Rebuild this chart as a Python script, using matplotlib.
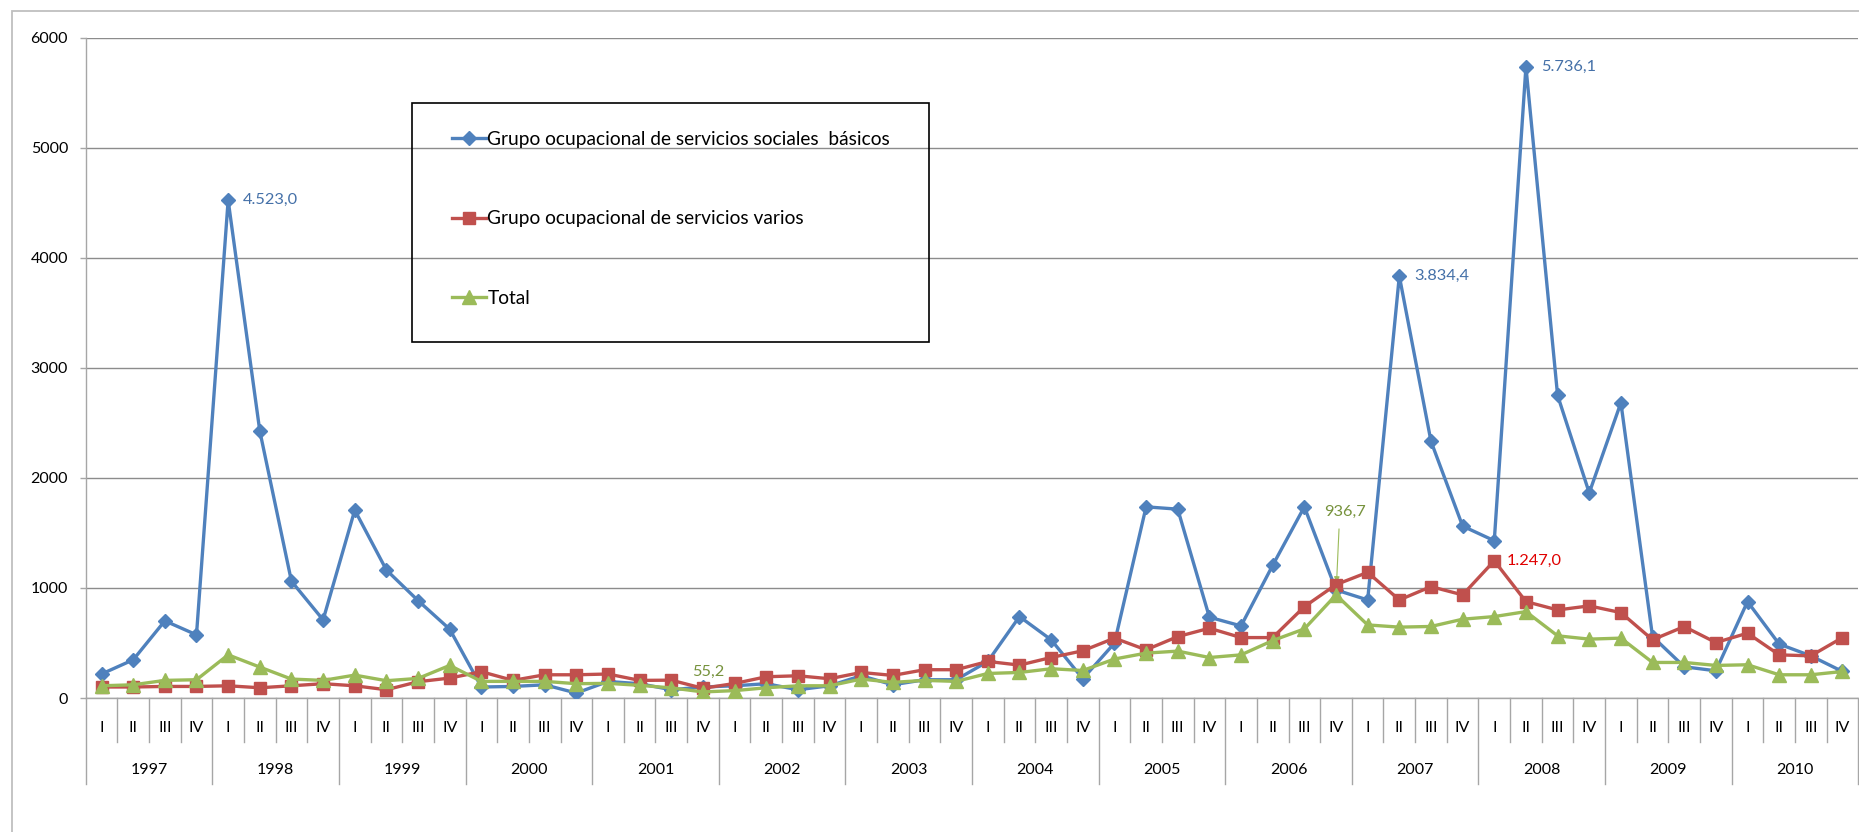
import matplotlib
matplotlib.use("Agg")
import matplotlib.pyplot as plt
import matplotlib.transforms as mtransforms
from matplotlib.patches import Rectangle

plt.rcParams['font.family'] = ['Lato', 'DejaVu Sans']

years = ['1997', '1998', '1999', '2000', '2001', '2002', '2003', '2004',
         '2005', '2006', '2007', '2008', '2009', '2010']
quarters = ['I', 'II', 'III', 'IV']

sociales_basicos = [
    218, 347, 701, 574,
    4523.0, 2426, 1061, 710,
    1707, 1163, 885, 625,
    100, 105, 120, 45,
    150, 130, 75, 100,
    111, 130, 75, 111,
    202, 120, 166, 166,
    332, 740, 529, 175,
    498, 1737, 1716, 734,
    655, 1206, 1737, 982,
    891, 3834.4, 2333, 1562,
    1429, 5736.1, 2750, 1864,
    2683, 558, 284, 247,
    876, 490, 383, 241,
]
servicios_varios = [
    100, 100, 105, 105,
    111, 93, 111, 130,
    111, 75, 148, 181,
    239, 160, 211, 211,
    218, 160, 162, 88,
    132, 193, 202, 175,
    232, 205, 257, 257,
    332, 299, 368, 429,
    544, 438, 558, 634,
    549, 549, 830, 1030,
    1142, 891, 1012, 937,
    1247.0, 876, 800, 837,
    776, 529, 649, 504,
    589, 392, 383, 549,
]
total = [
    111, 120, 160, 166,
    392, 281, 172, 160,
    208, 157, 178, 296,
    151, 151, 151, 130,
    133, 115, 92, 55.2,
    67, 93, 111, 111,
    172, 142, 160, 151,
    223, 232, 266, 250,
    354, 408, 426, 368,
    392, 522, 628, 936.7,
    664, 644, 650, 716,
    740, 785, 565, 535,
    544, 323, 323, 296,
    302, 211, 211, 241,
]

series_names = ['Grupo ocupacional de servicios sociales  básicos',
                'Grupo ocupacional de servicios varios',
                'Total']

BLUE = '#4F81BD'
RED = '#C0504D'
GREEN = '#9BBB59'

W, H = 1859, 832
fig = plt.figure(figsize=(W / 100, H / 100), dpi=100)

# outer chart border
fig.patches.append(Rectangle((11.7 / W, -0.5), 2.0, 0.5 + 1 - 11 / H,
                             transform=fig.transFigure, fill=False,
                             edgecolor='#BFBFBF', linewidth=1.3, zorder=0))

ax = fig.add_axes([85.7 / W, (H - 698) / H, (1858.3 - 85.7) / W, 660.3 / H])

x = list(range(len(sociales_basicos)))
l1, = ax.plot(x, sociales_basicos, color=BLUE, lw=2.4, marker='D', ms=7.5,
              mec=BLUE, mfc=BLUE, zorder=3)
l2, = ax.plot(x, servicios_varios, color=RED, lw=2.4, marker='s', ms=9,
              mec=RED, mfc=RED, zorder=4)
l3, = ax.plot(x, total, color=GREEN, lw=2.4, marker='^', ms=9.5,
              mec=GREEN, mfc=GREEN, zorder=5)

ax.set_xlim(-0.5, len(x) - 0.5)
ax.set_ylim(0, 6000)
ax.set_yticks(range(0, 6001, 1000))
ax.tick_params(axis='y', length=4.2, width=1, color='#A6A6A6', pad=8.5,
               labelsize=11.5, labelcolor='black')
ax.set_xticks([])
ax.grid(axis='y', color='#8C8C8C', lw=1)
ax.set_axisbelow(True)
for s in ['top', 'right']:
    ax.spines[s].set_visible(False)
ax.spines['left'].set_color('#A6A6A6')
ax.spines['bottom'].set_color('#A6A6A6')
ax.spines['left'].set_linewidth(1)
ax.spines['bottom'].set_linewidth(1)

# category axis (two levels)
trans = mtransforms.blended_transform_factory(ax.transData, ax.transAxes)
nq = len(quarters)
for i in range(len(x) + 1):
    xb = i - 0.5
    y_end = -0.1303 if i % nq == 0 else -0.0662
    ax.plot([xb, xb], [0, y_end], transform=trans, color='#A6A6A6', lw=1,
            clip_on=False)
for i in range(len(x)):
    ax.text(i, -0.0455, quarters[i % nq], transform=trans, ha='center',
            va='center', fontsize=11.5)
for j, yr in enumerate(years):
    ax.text(j * nq + (nq - 1) / 2, -0.109, yr, transform=trans, ha='center',
            va='center', fontsize=11.5)


def fmt(v):
    return f"{v:,.1f}".replace(',', 'X').replace('.', ',').replace('X', '.')


# data labels
lab_blue = '#4470A8'
for idx in (4, 41, 45):
    v = sociales_basicos[idx]
    ax.annotate(fmt(v), xy=(idx, v), xytext=(15, 0), textcoords='offset pixels',
                ha='left', va='center', color=lab_blue, fontsize=11.8)
idx = 44
v = servicios_varios[idx]
ax.annotate(fmt(v), xy=(idx, v), xytext=(12, 0), textcoords='offset pixels',
            ha='left', va='center', color='#E00000', fontsize=11.8)
lab_green = '#76923C'
idx = 19
ax.annotate(fmt(total[idx]), xy=(idx, total[idx]),
            xytext=(5, 20), textcoords='offset pixels', ha='center',
            va='center', color=lab_green, fontsize=11.8)
idx = 39
ax.annotate(fmt(total[idx]), xy=(idx, total[idx]),
            xytext=(9, 83), textcoords='offset pixels', ha='center',
            va='center', color=lab_green, fontsize=11.8)
ax.annotate('', xy=(idx, total[idx]), xytext=(3, 66),
            textcoords='offset pixels',
            arrowprops=dict(arrowstyle='-|>', color=GREEN, lw=0.8,
                            shrinkA=0, shrinkB=9, mutation_scale=8))

# legend box
fig.patches.append(Rectangle((412 / W, 1 - 342 / H), (929 - 412) / W,
                             (342 - 103) / H, transform=fig.transFigure,
                             fill=False, edgecolor='black', linewidth=1.2,
                             zorder=6))
leg = ax.legend([l1, l2, l3], series_names, loc='upper left',
                bbox_to_anchor=(452 / W, 1 - 131 / H),
                bbox_transform=fig.transFigure, frameon=False,
                fontsize=13.8, handlelength=1.75, handletextpad=0.1,
                labelspacing=3.25, borderpad=0, borderaxespad=0,
                markerscale=1.0)
leg.set_zorder(7)

fig.savefig('out.png', dpi=100)
